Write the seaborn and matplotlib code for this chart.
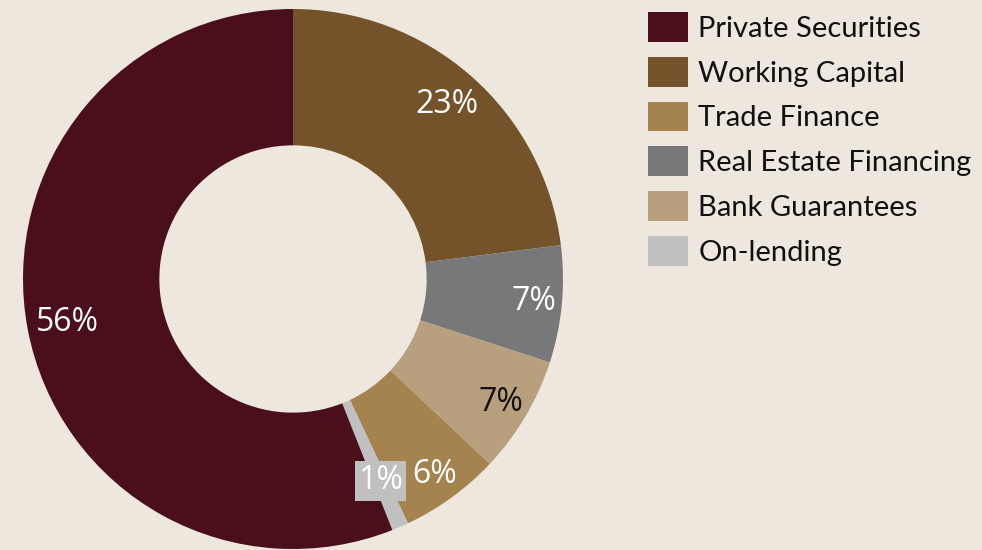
import matplotlib
matplotlib.use("Agg")
import matplotlib.pyplot as plt
import seaborn as sns
import numpy as np

# Portfolio allocation by product (percent), drawn clockwise from 12 o'clock
categories = ["Working Capital", "Real Estate Financing", "Bank Guarantees",
              "Trade Finance", "On-lending", "Private Securities"]
values = [23, 7, 7, 6, 1, 56]
legend_order = ["Private Securities", "Working Capital", "Trade Finance",
                "Real Estate Financing", "Bank Guarantees", "On-lending"]

colors = {
    "Private Securities": "#4a0f1a",
    "Working Capital": "#74532a",
    "Trade Finance": "#a4834f",
    "Real Estate Financing": "#78787a",
    "Bank Guarantees": "#b8a07e",
    "On-lending": "#c0c0c0",
}
label_colors = {"Bank Guarantees": "#111111"}
label_radius = {"Working Capital": 0.86, "Private Securities": 0.85, "On-lending": 0.815}

bg = "#ede7dd"
sns.set_theme(style="white")
plt.rcParams["font.family"] = ["Open Sans", "DejaVu Sans"]

fig = plt.figure(figsize=(9.82, 5.5), dpi=100)
fig.patch.set_facecolor(bg)

W, H = 982, 550
cx, cy, r = 293, 279, 270
ax = fig.add_axes([(cx - r) / W, (H - cy - r) / H, 2 * r / W, 2 * r / H])
ax.set_facecolor(bg)

palette = sns.color_palette([colors[c] for c in categories])
wedges, _ = ax.pie(values, colors=palette, startangle=90, counterclock=False,
                   radius=1.0, wedgeprops=dict(width=0.505, linewidth=0))
ax.set_xlim(-1, 1)
ax.set_ylim(-1, 1)
ax.set_aspect("equal")
ax.axis("off")

for w, cat, v in zip(wedges, categories, values):
    ang = np.deg2rad((w.theta1 + w.theta2) / 2)
    rr = label_radius.get(cat, 0.895)
    x, y = rr * np.cos(ang), rr * np.sin(ang)
    kw = {}
    if cat == "On-lending":
        kw["bbox"] = dict(boxstyle="square,pad=0.1", fc=colors["On-lending"], ec="none")
    ax.text(x, y, f"{v:.0f}%", ha="center", va="center", fontsize=23,
            color=label_colors.get(cat, "white"), **kw)

fs = 21
handles = [plt.Rectangle((0, 0), 1, 1, fc=colors[c], ec="none") for c in legend_order]
fig.legend(handles, legend_order, loc="upper left",
           bbox_to_anchor=(648 / W, 1 - 12 / H), frameon=False,
           prop={"family": ["Lato", "DejaVu Sans"], "size": fs},
           handlelength=1.37, handleheight=1.2, handletextpad=0.35,
           labelspacing=0.51, borderpad=0, borderaxespad=0, labelcolor="#111111")

fig.savefig("out.png", dpi=100, facecolor=bg)
